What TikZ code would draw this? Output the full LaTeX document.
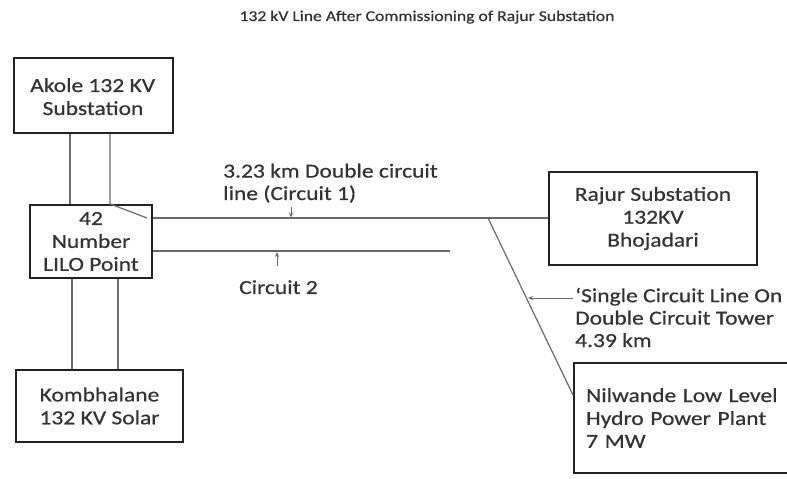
\documentclass[tikz,border=0pt]{standalone}
\usepackage{fontspec}
\setmainfont{Carlito}[FakeStretch=1.18,FakeBold=0.6]
\usetikzlibrary{arrows.meta}
\definecolor{txt}{HTML}{333333}
\definecolor{wire}{HTML}{6A6A6A}
\definecolor{frame}{HTML}{222222}
\tikzset{
  boxnode/.style={draw=frame, line width=2.2bp, rectangle, inner sep=0pt, align=center, text=txt, font=\fontsize{20}{23}\selectfont},
  lbl/.style={text=txt, inner sep=0pt, align=left, font=\fontsize{20}{22.5}\selectfont},
  wireline/.style={draw=wire, line width=1.2bp},
  tick/.style={draw=wire, line width=1bp, -{Stealth[length=5bp,width=4bp]}}
}
\begin{document}
\begin{tikzpicture}[x=1bp,y=-1bp]
\clip (0,0) rectangle (787,479);
\fill[white] (0,0) rectangle (787,479);
\node[text=txt, inner sep=0pt, anchor=base, font=\fontsize{15}{18}\selectfont] (title) at (427,21) {132 kV Line After Commissioning of Rajur Substation};

\node[boxnode, minimum width=159bp, minimum height=75bp] (akole) at (93.5,95.5) {};
\node[lbl, anchor=base west] (akoleA) at (30,92) {Akole 132 KV};
\node[lbl, anchor=base] (akoleB) at (93,115) {Substation};
\node[boxnode, minimum width=122bp, minimum height=73bp] (lilo) at (91,241.5) {42\\Number\\LILO Point};
\node[boxnode, minimum width=167bp, minimum height=72bp] (komb) at (99.5,406) {Kombhalane\\132 KV Solar};
\node[boxnode, minimum width=208bp, minimum height=93bp] (rajur) at (653,218.5) {Rajur Substation\\132KV\\Bhojadari};
\node[boxnode, anchor=west, inner xsep=12bp, text width=203bp, minimum height=110bp, align=left] (nil) at (573,418) {Nilwande Low Level\\Hydro Power Plant\\7 MW};

\coordinate (xa) at (70,0);
\coordinate (xb) at (110,0);
\coordinate (xc) at (72,0);
\coordinate (xd) at (118,0);
\coordinate (y1) at (0,218);
\coordinate (y2) at (0,251);
\coordinate (c2end) at (450,251);
\coordinate (tap) at (488,218);
\coordinate (kink) at (147,218);

\draw[wireline] (xa |- akole.south) -- (xa |- lilo.north);
\draw[wireline] (xb |- akole.south) -- (xb |- lilo.north) -- (kink);
\draw[wireline] (xc |- lilo.south) -- (xc |- komb.north);
\draw[wireline] (xd |- lilo.south) -- (xd |- komb.north);
\draw[wireline] (lilo.east |- y1) -- (rajur.west |- y1);
\draw[wireline] (lilo.east |- y2) -- (c2end);
\draw[wireline] (tap) -- (nil.west |- 0,395);

\node[lbl, anchor=base west] (c1lbl) at (223,200) {3.23 km Double circuit\\line (Circuit 1)};
\node[lbl, anchor=base west] (c2lbl) at (239,294) {Circuit 2};
\node[lbl, anchor=base west] (sclbl) at (575,347) {`Single Circuit Line On\\Double Circuit Tower\\4.39 km};

\coordinate (t1s) at (291,207);
\coordinate (t1e) at (291,217.5);
\coordinate (t2s) at (277,266);
\coordinate (t2e) at (277,252);
\coordinate (t3s) at (573,298);
\coordinate (t3e) at (528,298);
\draw[tick] (t1s) -- (t1e);
\draw[tick] (t2s) -- (t2e);
\draw[tick] (t3s) -- (t3e);
\end{tikzpicture}
\end{document}
